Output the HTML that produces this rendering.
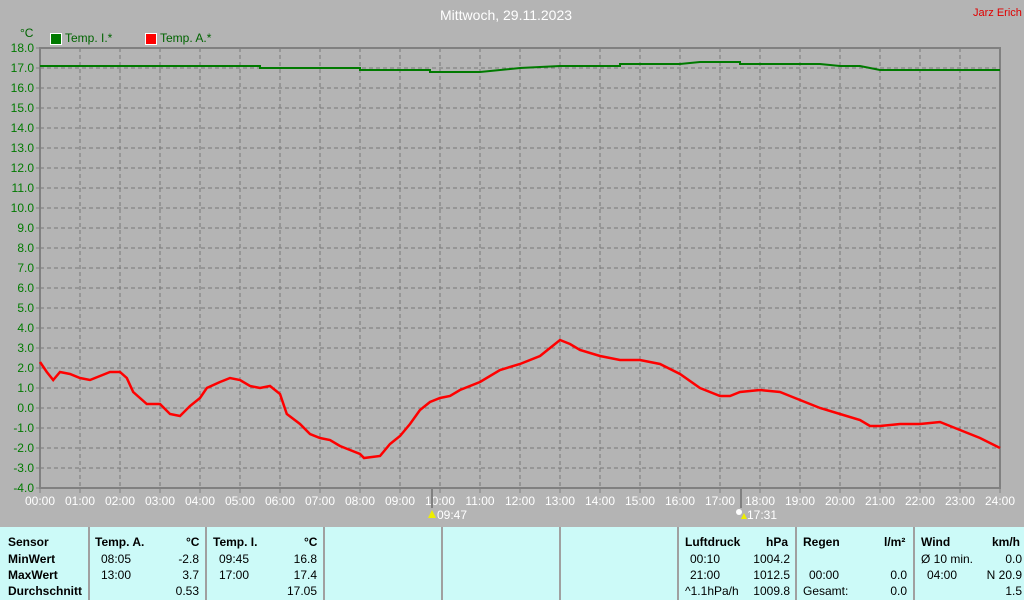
<!DOCTYPE html><html><head><meta charset="utf-8"><style>
body{margin:0;width:1024px;height:600px;background:#b4b4b4;font-family:"Liberation Sans",sans-serif;overflow:hidden;position:relative}
.t{position:absolute;font-size:12px;white-space:nowrap}
#tbl{position:absolute;left:0;top:527px;width:1024px;height:73px;background:#ccfaf8}
.c{position:absolute;font-size:12px;color:#000}
.b{font-weight:bold}
.sep{position:absolute;top:0;width:2px;height:73px;background:#a0a0a0}
</style></head><body>
<div class="t" style="left:440px;top:7px;color:#fff;font-size:14px">Mittwoch, 29.11.2023</div>
<div class="t" style="left:973px;top:7px;color:#e00000;font-size:11px">Jarz Erich</div>
<div class="t" style="left:20px;top:26px;color:#006400">°C</div>
<div style="position:absolute;left:50px;top:33px;width:10px;height:10px;background:#007a00;border:1px solid #fff"></div>
<div class="t" style="left:65px;top:31px;color:#006400">Temp. I.*</div>
<div style="position:absolute;left:145px;top:33px;width:10px;height:10px;background:#f00;border:1px solid #fff"></div>
<div class="t" style="left:160px;top:31px;color:#006400">Temp. A.*</div>
<svg id="s" width="1024" height="527" style="position:absolute;left:0;top:0"></svg>
<div id="tbl">
<div class="sep" style="left:88px"></div><div class="sep" style="left:205px"></div><div class="sep" style="left:323px"></div><div class="sep" style="left:441px"></div><div class="sep" style="left:559px"></div><div class="sep" style="left:677px"></div><div class="sep" style="left:795px"></div><div class="sep" style="left:913px"></div>
<div class="c b" style="left:8px;top:8px">Sensor</div><div class="c b" style="left:8px;top:25px">MinWert</div><div class="c b" style="left:8px;top:41px">MaxWert</div><div class="c b" style="left:8px;top:57px">Durchschnitt</div>
<div class="c b" style="left:95px;top:8px">Temp. A.</div><div class="c b" style="left:186px;top:8px">°C</div>
<div class="c" style="left:101px;top:25px">08:05</div><div class="c" style="right:825px;top:25px">-2.8</div>
<div class="c" style="left:101px;top:41px">13:00</div><div class="c" style="right:825px;top:41px">3.7</div>
<div class="c" style="right:825px;top:57px">0.53</div>
<div class="c b" style="left:213px;top:8px">Temp. I.</div><div class="c b" style="left:304px;top:8px">°C</div>
<div class="c" style="left:219px;top:25px">09:45</div><div class="c" style="right:707px;top:25px">16.8</div>
<div class="c" style="left:219px;top:41px">17:00</div><div class="c" style="right:707px;top:41px">17.4</div>
<div class="c" style="right:707px;top:57px">17.05</div>
<div class="c b" style="left:685px;top:8px">Luftdruck</div><div class="c b" style="left:766px;top:8px">hPa</div>
<div class="c" style="left:690px;top:25px">00:10</div><div class="c" style="right:234px;top:25px">1004.2</div>
<div class="c" style="left:690px;top:41px">21:00</div><div class="c" style="right:234px;top:41px">1012.5</div>
<div class="c" style="left:685px;top:57px">^1.1hPa/h</div><div class="c" style="right:234px;top:57px">1009.8</div>
<div class="c b" style="left:803px;top:8px">Regen</div><div class="c b" style="left:884px;top:8px">l/m²</div>
<div class="c" style="left:809px;top:41px">00:00</div><div class="c" style="right:117px;top:41px">0.0</div>
<div class="c" style="left:803px;top:57px">Gesamt:</div><div class="c" style="right:117px;top:57px">0.0</div>
<div class="c b" style="left:921px;top:8px">Wind</div><div class="c b" style="left:992px;top:8px">km/h</div>
<div class="c" style="left:921px;top:25px">Ø 10 min.</div><div class="c" style="right:2px;top:25px">0.0</div>
<div class="c" style="left:927px;top:41px">04:00</div><div class="c" style="right:2px;top:41px">N 20.9</div>
<div class="c" style="right:2px;top:57px">1.5</div>
</div>
<script>
var s='',X=h=>40+h*40,Y=v=>48+(18-v)*20;
for(var i=1;i<24;i++)s+=`<line x1="${X(i)}" y1="48" x2="${X(i)}" y2="488" stroke="#777" stroke-dasharray="4,3"/>`;
for(var v=-3;v<18;v++)s+=`<line x1="40" y1="${Y(v)}" x2="1000" y2="${Y(v)}" stroke="#777" stroke-dasharray="4,3"/>`;
s+=`<rect x="40" y="48" width="960" height="440" fill="none" stroke="#808080" stroke-width="2"/>`;
for(var v=-4;v<=18;v++){s+=`<text x="34" y="${Y(v)+4}" text-anchor="end" font-size="12" fill="#007a00" font-family="Liberation Sans">${v.toFixed(1)}</text><line x1="36" x2="40" y1="${Y(v)}" y2="${Y(v)}" stroke="#808080"/>`;}
for(var i=0;i<=24;i++){s+=`<text x="${X(i)}" y="505" text-anchor="middle" font-size="12" fill="#fff" font-family="Liberation Sans">${String(i).padStart(2,'0')}:00</text><line x1="${X(i)}" x2="${X(i)}" y1="488" y2="493" stroke="#808080"/>`;}
s+=`<line x1="432" x2="432" y1="488" y2="508" stroke="#808080" stroke-width="2"/><line x1="741" x2="741" y1="488" y2="508" stroke="#808080" stroke-width="2"/>`;
s+=`<polygon points="428,518 432,510 436,518" fill="#ee0"/><text x="437" y="519" font-size="12" fill="#fff" font-family="Liberation Sans">09:47</text>`;
s+=`<circle cx="739" cy="512" r="3" fill="#fff"/><polygon points="741,519 744,513 747,519" fill="#ee0"/><text x="747" y="519" font-size="12" fill="#fff" font-family="Liberation Sans">17:31</text>`;
var r=[[0,2.3],[.17,1.8],[.33,1.4],[.5,1.8],[.75,1.7],[1,1.5],[1.25,1.4],[1.5,1.6],[1.75,1.8],[2,1.8],[2.17,1.5],[2.33,.8],[2.67,.2],[3,.2],[3.25,-.3],[3.5,-.4],[3.75,.1],[4,.5],[4.17,1],[4.5,1.3],[4.75,1.5],[5,1.4],[5.25,1.1],[5.5,1],[5.75,1.1],[6,.7],[6.17,-.3],[6.5,-.8],[6.75,-1.3],[7,-1.5],[7.25,-1.6],[7.5,-1.9],[7.75,-2.1],[8,-2.3],[8.1,-2.5],[8.5,-2.4],[8.75,-1.8],[9,-1.4],[9.25,-.8],[9.5,-.1],[9.75,.3],[10,.5],[10.25,.6],[10.5,.9],[11,1.3],[11.5,1.9],[12,2.2],[12.5,2.6],[12.75,3],[13,3.4],[13.25,3.2],[13.5,2.9],[14,2.6],[14.5,2.4],[15,2.4],[15.5,2.2],[16,1.7],[16.5,1],[17,.6],[17.25,.6],[17.5,.8],[18,.9],[18.5,.8],[18.75,.6],[19,.4],[19.5,0],[20,-.3],[20.5,-.6],[20.75,-.9],[21,-.9],[21.5,-.8],[22,-.8],[22.5,-.7],[22.75,-.9],[23,-1.1],[23.5,-1.5],[24,-2]];
var g=[[0,17.1],[5.5,17.1],[5.5,17],[8,17],[8,16.9],[9.75,16.9],[9.75,16.8],[11,16.8],[12,17],[13,17.1],[14.5,17.1],[14.5,17.2],[16,17.2],[16.5,17.3],[17.5,17.3],[17.5,17.2],[19.5,17.2],[20,17.1],[20.5,17.1],[21,16.9],[24,16.9]];
var P=a=>a.map(p=>X(p[0]).toFixed(1)+','+Y(p[1]).toFixed(1)).join(' ');
s+=`<polyline points="${P(g)}" fill="none" stroke="#007a00" stroke-width="2"/><polyline points="${P(r)}" fill="none" stroke="#f00" stroke-width="2.5"/>`;
document.getElementById('s').innerHTML=s;
</script>
</body></html>
